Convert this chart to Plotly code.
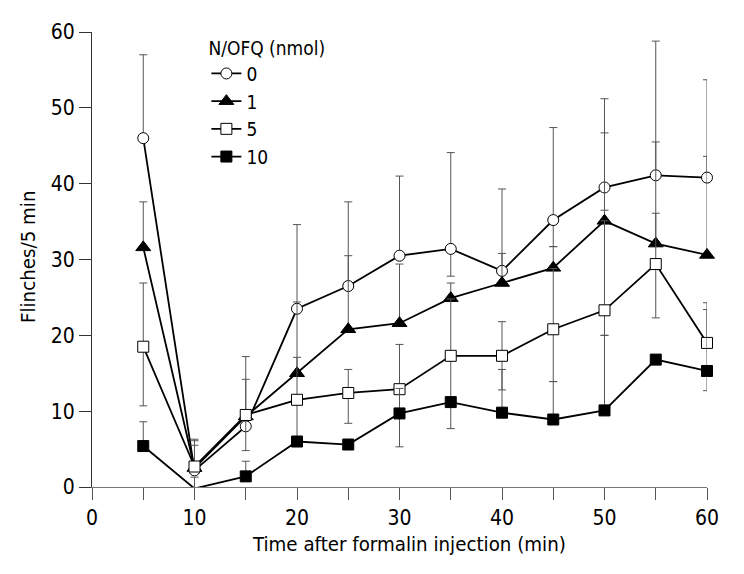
import plotly.graph_objects as go

time_min = [5, 10, 15, 20, 25, 30, 35, 40, 45, 50, 55, 60]

dose_labels = ["0", "1", "5", "10"]

v0 = [46.0, 2.2, 8.0, 23.5, 26.5, 30.5, 31.4, 28.5, 35.2, 39.5, 41.1, 40.8]
v0_up = [11.0, 4.1, 9.2, 11.1, 11.1, 10.5, 12.7, 10.8, 12.2, 11.7, 17.7, 12.9]
v0_dn = [0, 0, 0, 0, 0, 0, 3.6, 0, 3.5, 3.0, 0, 0]

v1 = [31.6, 2.5, 9.3, 15.0, 20.8, 21.6, 24.9, 26.9, 28.9, 35.1, 32.1, 30.6]
v1_up = [6.0, 3.6, 0, 9.4, 9.7, 7.8, 2.0, 3.9, 2.8, 11.6, 13.4, 13.0]
v1_dn = [0, 0, 0, 0, 0, 0, 0, 0, 0, 0, 0, 0]

v5 = [18.5, 2.7, 9.5, 11.5, 12.4, 12.9, 17.3, 17.3, 20.8, 23.3, 29.4, 19.0]
v5_up = [8.4, 2.8, 4.7, 5.6, 3.1, 5.9, 7.5, 4.5, 8.0, 11.8, 6.7, 5.3]
v5_dn = [7.8, 0, 4.7, 5.6, 4.0, 0, 6.0, 4.5, 6.9, 3.3, 7.1, 0]

v10 = [5.4, -0.2, 1.4, 6.0, 5.6, 9.7, 11.2, 9.8, 8.9, 10.1, 16.8, 15.3]
v10_up = [3.2, 1.5, 2.0, 0, 0, 3.3, 0, 5.7, 5.0, 9.9, 0, 8.1]
v10_dn = [0, 0, 0, 0, 0, 4.4, 3.5, 0, 0, 0, 0, 2.6]

x_ticks = [0, 10, 20, 30, 40, 50, 60]
y_ticks = [0, 10, 20, 30, 40, 50, 60]

FONT = "DejaVu Sans Condensed, Liberation Sans Narrow, Liberation Sans, sans-serif"

series = [
    (dose_labels[0], v0, v0_up, v0_dn, "circle", "white", 11),
    (dose_labels[1], v1, v1_up, v1_dn, "triangle-up", "black", 13),
    (dose_labels[2], v5, v5_up, v5_dn, "square", "white", 11),
    (dose_labels[3], v10, v10_up, v10_dn, "square", "black", 11),
]

fig = go.Figure()
for name, vals, up, dn, sym, fill, size in series:
    fig.add_trace(go.Scatter(
        x=time_min, y=vals, name=name, mode="lines+markers",
        line=dict(color="black", width=1.8),
        marker=dict(symbol=sym, size=size, color=fill,
                    line=dict(color="black", width=1)),
        error_y=dict(type="data", symmetric=False, array=up, arrayminus=dn,
                     color="#555555", thickness=1, width=4),
        cliponaxis=False,
    ))

fig.update_layout(
    width=736, height=566,
    margin=dict(l=84, r=37, t=24, b=87),
    paper_bgcolor="white", plot_bgcolor="white",
    font=dict(family=FONT, size=21, color="black"),
    showlegend=True,
    legend=dict(
        x=0.186, y=1.0046, xanchor="left", yanchor="top",
        title=dict(text="N/OFQ (nmol)", font=dict(size=19)),
        font=dict(size=19), bgcolor="rgba(0,0,0,0)",
        tracegroupgap=0, itemwidth=30,
    ),
    xaxis=dict(
        range=[0, 60], tickvals=x_ticks, ticktext=[str(v) for v in x_ticks],
        showgrid=False, zeroline=False, showline=True, linecolor="#777777",
        linewidth=1, ticks="outside", ticklen=12, tickcolor="#555555",
        tickwidth=1, minor=dict(ticks="outside", ticklen=12,
                                tickcolor="#555555", dtick=5, tick0=0),
        tickfont=dict(size=21),
    ),
    yaxis=dict(
        range=[0, 60], tickvals=y_ticks, ticktext=[str(v) for v in y_ticks],
        showgrid=False, zeroline=False, showline=True, linecolor="#333333",
        linewidth=1, ticks="outside", ticklen=12, tickcolor="#333333",
        tickwidth=1, tickfont=dict(size=21),
    ),
    annotations=[
        dict(text="Time after formalin injection (min)", xref="paper", yref="paper",
             x=0.5157, y=-0.125, xanchor="center", yanchor="middle",
             showarrow=False, font=dict(size=20.3)),
        dict(text="Flinches/5 min", xref="paper", yref="paper",
             x=-0.104, y=0.5055, xanchor="center", yanchor="middle",
             textangle=-90, showarrow=False, font=dict(size=20.3)),
    ],
)

fig.write_html("out.html")
